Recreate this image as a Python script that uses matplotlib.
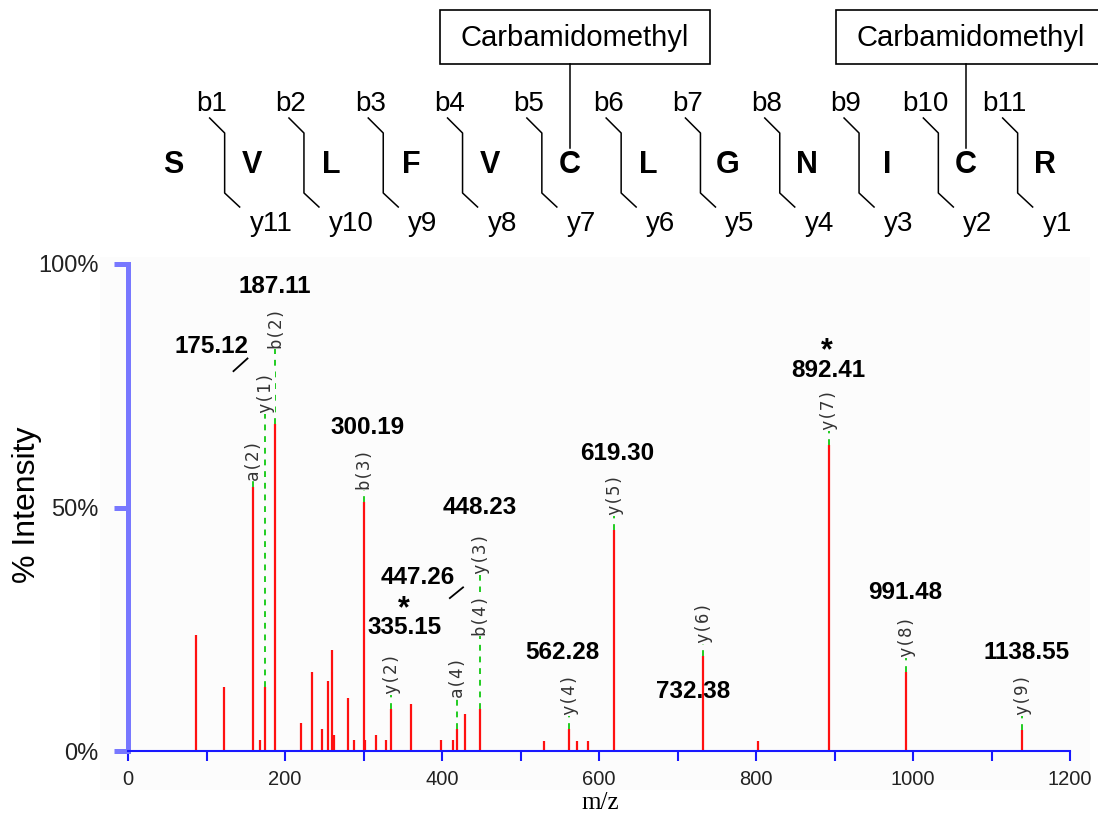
import matplotlib
matplotlib.use("Agg")
import matplotlib.pyplot as plt
from matplotlib.patches import Rectangle
from matplotlib.ticker import MultipleLocator, FixedLocator

plt.rcParams['font.family'] = ['Liberation Sans', 'DejaVu Sans']

# peptide sequence and modifications
residues = ['S', 'V', 'L', 'F', 'V', 'C', 'L', 'G', 'N', 'I', 'C', 'R']
mod_sites = [5, 10]
mod_name = 'Carbamidomethyl'

# spectrum peaks (m/z, % intensity)
mz = [86.2, 122.0, 158.8, 168.0, 175.12, 187.11, 220.0, 234.4, 247.6, 254.8,
      259.9, 262.0, 280.7, 288.4, 300.19, 302.5, 316.3, 328.2, 335.15, 360.9,
      398.3, 414.4, 419.0, 428.9, 448.23, 530.0, 562.28, 572.0, 586.0, 619.30,
      732.38, 802.0, 892.41, 991.48, 1138.55]
intensity = [23.8, 13.1, 54.2, 2.3, 13.1, 67.1, 5.7, 16.2, 4.5, 14.4,
             20.7, 3.3, 10.9, 2.3, 51.1, 2.3, 3.3, 2.3, 8.6, 9.7,
             2.2, 2.2, 4.5, 7.5, 8.6, 2.1, 4.5, 2.1, 2.1, 45.4,
             19.6, 2.1, 62.8, 16.2, 4.3]

# fragment ion assignments
frag_mz = [158.8, 175.12, 187.11, 300.19, 335.15, 419.0, 448.23, 448.23,
           562.28, 619.30, 732.38, 892.41, 991.48, 1138.55]
frag_ion = ['a(2)', 'y(1)', 'b(2)', 'b(3)', 'y(2)', 'a(4)', 'b(4)', 'y(3)',
            'y(4)', 'y(5)', 'y(6)', 'y(7)', 'y(8)', 'y(9)']
frag_level = [55.6, 69.4, 82.8, 53.8, 11.7, 11.1, 23.8, 36.3,
              7.4, 48.5, 22.2, 65.9, 19.3, 7.4]

# labelled masses
mass_text = ['175.12', '187.11', '300.19', '335.15', '447.26', '448.23',
             '562.28', '619.30', '732.38', '892.41', '991.48', '1138.55']
mass_pos = [(107, 83.0), (187.3, 95.3), (304.5, 66.5), (352.9, 25.3),
            (369.4, 35.7), (448.4, 49.9), (554, 20.3), (623, 61.0),
            (719.7, 12.3), (891.7, 78.2), (989.8, 32.6), (1145, 20.3)]
starred = ['335.15', '892.41']

W, H = 1098, 825
fig = plt.figure(figsize=(W / 100, H / 100), dpi=100)

# pixel canvas for the sequence header
pax = fig.add_axes([0, 0, 1, 1])
pax.set_xlim(0, W)
pax.set_ylim(H, 0)
pax.axis('off')
pax.add_patch(Rectangle((100, 257), 990, 533, color='#fcfcfc', lw=0, zorder=0))

x0, step = 173, 79.3
xs = [x0 + i * step for i in range(len(residues))]
n = len(residues)
for i, r in enumerate(residues):
    pax.text(xs[i], 165, r, ha='center', va='center', fontsize=22,
             fontweight='bold')
for i in range(n - 1):
    bx = (xs[i] + xs[i + 1]) / 2 + 12
    pax.plot([bx - 15, bx, bx, bx + 15], [118, 133, 193, 207], color='black', lw=1.1)
    pax.text(bx - 13, 104, f'b{i + 1}', ha='center', va='center', fontsize=20)
    pax.text(bx + 25, 224, f'y{n - 1 - i}', ha='left', va='center', fontsize=20)
for s in mod_sites:
    pax.plot([xs[s], xs[s]], [64, 148], color='black', lw=1.1)
    pax.add_patch(Rectangle((xs[s] + 5 - 135, 10), 270, 54, fc='white',
                            ec='black', lw=1.2))
    pax.text(xs[s] + 5, 38, mod_name, ha='center', va='center', fontsize=21)

# spectrum
ax = fig.add_axes([128 / W, 1 - 751 / H, 942 / W, 487 / H])
ax.patch.set_visible(False)
ax.set_xlim(0, 1200)
ax.set_ylim(0, 100)
ax.vlines(mz, 0, intensity, colors='#ff1010', lw=1.6, zorder=3)

peak_h = dict(zip(mz, intensity))
top_level = {}
for m, lvl in zip(frag_mz, frag_level):
    top_level[m] = max(top_level.get(m, 0), lvl)
for m, lvl in top_level.items():
    ax.plot([m, m], [peak_h[m], lvl], color='#22cc22', lw=1.4,
            dashes=(3, 3), zorder=2)
for m, ion, lvl in zip(frag_mz, frag_ion, frag_level):
    ax.text(m, lvl, ion, rotation=90, ha='center', va='bottom', fontsize=12.5,
            family='DejaVu Sans Mono', color='#333333', zorder=4,
            bbox=dict(boxstyle='square,pad=0.05', fc='#fcfcfc', ec='none'))

for t, (px, py) in zip(mass_text, mass_pos):
    ax.text(px, py, t, ha='center', va='center', fontsize=17.5, fontweight='bold', zorder=5)
    if t in starred:
        ax.text(px - 2, py + 3.8, '*', ha='center', va='center', fontsize=22,
                fontweight='bold')
ax.plot([134.4, 152.2], [78.0, 80.6], color='black', lw=1.3)
ax.plot([410.0, 426.8], [31.4, 33.6], color='black', lw=1.3)

for side in ['top', 'right']:
    ax.spines[side].set_visible(False)
ax.spines['left'].set_color('#7878ff')
ax.spines['left'].set_linewidth(3.6)
ax.spines['bottom'].set_color('#1818ff')
ax.spines['bottom'].set_linewidth(1.5)
ax.spines['bottom'].set_zorder(6)

ax.yaxis.set_major_locator(FixedLocator([0, 50, 100]))
ax.set_yticklabels(['0%', '50%', '100%'])
ax.tick_params(axis='y', length=10, width=3.6, color='#7878ff', labelsize=17,
               labelcolor='#222222', pad=11)
ax.xaxis.set_major_locator(MultipleLocator(200))
ax.xaxis.set_minor_locator(MultipleLocator(100))
ax.tick_params(axis='x', which='both', length=7.5, width=1.5, color='#1818ff',
               labelsize=14.5, labelcolor='#222222', pad=6)

fig.text(600 / W, 1 - 803 / H, 'm/z', ha='center', va='center', fontsize=18,
         family='Liberation Serif')
fig.text(27 / W, 1 - 505 / H, '% Intensity', ha='center', va='center',
         rotation=90, fontsize=23)

fig.savefig('out.png', dpi=100)
